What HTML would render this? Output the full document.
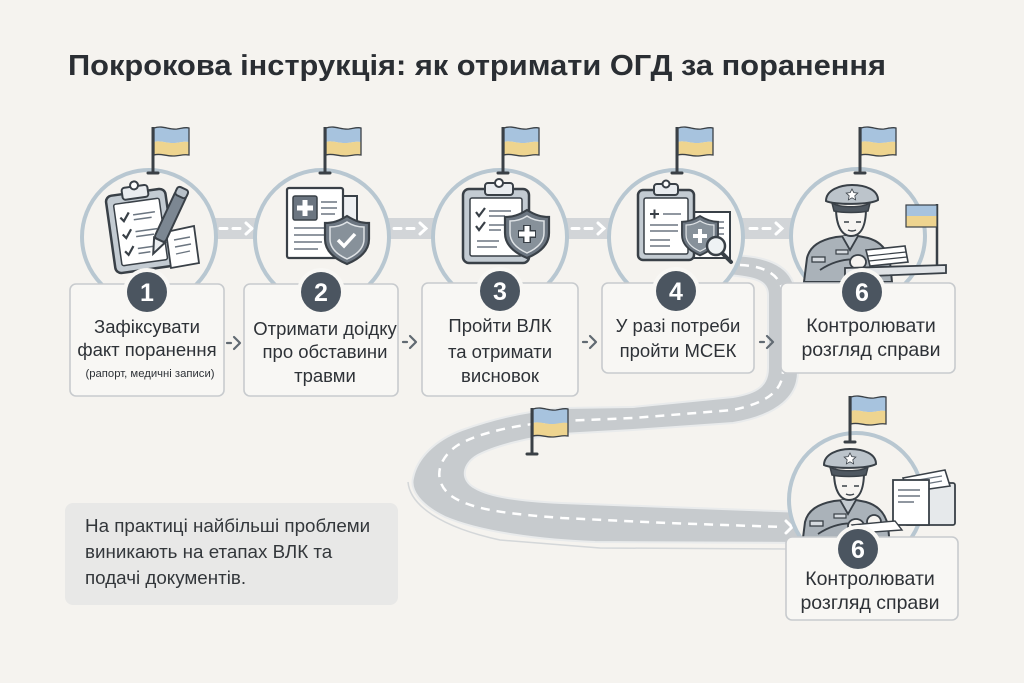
<!DOCTYPE html>
<html><head><meta charset="utf-8"><style>
html,body{margin:0;padding:0;background:#f5f3ef;}
svg{display:block;}
text{font-family:"Liberation Sans","Noto Sans CJK SC",sans-serif;}
</style></head><body>
<svg width="1024" height="683" viewBox="0 0 1024 683" xmlns="http://www.w3.org/2000/svg" xmlns:xlink="http://www.w3.org/1999/xlink">
<defs>
<g id="flag">
 <line x1="0" y1="0" x2="0" y2="46" stroke="#3a4046" stroke-width="3"/>
 <line x1="-5" y1="46" x2="5" y2="46" stroke="#3a4046" stroke-width="3" stroke-linecap="round"/>
 <path d="M1,1 C10,-2 16,3 24,2 C30,1 33,0 36,1 L36,15 C30,14 26,16 20,16 C12,16 7,13 1,15 Z" fill="#a7c3de"/>
 <path d="M1,15 C7,13 12,16 20,16 C26,16 30,14 36,15 L36,28 C30,27 26,29 20,29 C12,29 7,26 1,28 Z" fill="#eed48f"/>
 <path d="M1,1 C10,-2 16,3 24,2 C30,1 33,0 36,1 L36,28 C30,27 26,29 20,29 C12,29 7,26 1,28 Z" fill="none" stroke="#3a4046" stroke-width="1.3"/>
</g>
<g id="shield">
 <path d="M0,0 C8,5 14,7 22,7 L22,23 C22,35 12,43 0,48 C-12,43 -22,35 -22,23 L-22,7 C-14,7 -8,5 0,0 Z" fill="#6b7580" stroke="#394047" stroke-width="2.2"/>
 <path d="M0,6 C6,10 11,11 17,11 L17,23 C17,33 9,39 0,43 C-9,39 -17,33 -17,23 L-17,11 C-11,11 -6,10 0,6 Z" fill="#87919a" stroke="#dfe3e6" stroke-width="1.5"/>
</g>
<g id="soldier">
 <path d="M804,282 L807,258 C810,246 820,240 836,237 L846,236 L852,243 L858,236 L868,238 C882,242 888,252 890,262 L892,282 Z" fill="#aab2b9" stroke="#394047" stroke-width="2"/>
 <path d="M842,236 L850,250 L858,236" fill="#c3cad0" stroke="#394047" stroke-width="1.8"/>
 <rect x="812" y="257" width="13" height="5" fill="#d6dbe0" stroke="#394047" stroke-width="1.3"/>
 <rect x="836" y="250" width="12" height="4" fill="#d6dbe0" stroke="#394047" stroke-width="1.2"/>
 <path d="M836,208 C836,226 842,236 851,236 C861,236 866,226 866,208 Z" fill="#f6f4f1" stroke="#394047" stroke-width="2"/>
 <path d="M844,222 h5 M856,222 h5 M848,230 q4,2 8,0" stroke="#394047" stroke-width="1.4" fill="none"/>
 <path d="M826,201 C826,190 840,185 852,185 C866,185 878,190 878,200 C870,205 834,205 826,201 Z" fill="#bcc4cb" stroke="#394047" stroke-width="2"/>
 <path d="M832,203 C840,208 862,208 870,203 L868,211 C860,213 842,213 834,211 Z" fill="#4e5760" stroke="#394047" stroke-width="1.5"/>
 <path d="M852,189 l1.8,3.6 4,.5 -3,2.7 .8,4 -3.6,-2 -3.6,2 .8,-4 -3,-2.7 4,-.5 Z" fill="#fff" stroke="#394047" stroke-width="0.8"/>
 <path d="M820,270 C832,262 846,258 860,260" fill="none" stroke="#394047" stroke-width="1.8"/>
 <ellipse cx="858" cy="262" rx="8" ry="7" fill="#f6f4f1" stroke="#394047" stroke-width="1.8"/>
 <ellipse cx="876" cy="258" rx="7" ry="7" fill="#f6f4f1" stroke="#394047" stroke-width="1.8"/>
</g>
</defs>

<rect width="1024" height="683" fill="#f5f3ef"/>

<!-- title -->
<text x="68" y="75" font-size="29" font-weight="bold" fill="#2a2e33" textLength="818" lengthAdjust="spacingAndGlyphs">Покрокова інструкція: як отримати ОГД за поранення</text>

<!-- bands between circles -->
<g fill="#d2d5d8">
 <rect x="205" y="218" width="60" height="21"/>
 <rect x="380" y="218" width="62" height="21"/>
 <rect x="558" y="218" width="60" height="21"/>
 <rect x="734" y="218" width="66" height="21"/>
</g>
<g stroke="#ffffff" stroke-width="3" fill="none" stroke-linecap="round">
 <path d="M220,228.5 h7 M233,228.5 h7 M246,223 l6,5.5 -6,5.5"/>
 <path d="M394,228.5 h7 M407,228.5 h7 M420,223 l6,5.5 -6,5.5"/>
 <path d="M572,228.5 h7 M585,228.5 h7 M598,223 l6,5.5 -6,5.5"/>
 <path d="M750,228.5 h7 M763,228.5 h7 M776,223 l6,5.5 -6,5.5"/>
</g>

<!-- road -->
<path d="M725,255 C760,255 785,262 793,282 L798,300 L798,372 C798,395 780,415 733,423 L633,430 L562,434 C530,437 495,446 478,455 C462,464 460,480 475,488 C490,497 520,501 562,503 L667,507 L805,512 L805,543 L595,542 C540,540 480,532 445,517 C420,505 410,490 413,478 C417,458 435,440 462,430 C490,420 520,412 562,408 L633,407 L733,397 C758,393 768,385 768,368 L768,295 C768,282 758,277 725,275 Z" fill="#c7cbce" stroke="#e9ebec" stroke-width="2"/>
<path d="M408,482 C410,505 440,527 500,540 L600,548 L790,549" fill="none" stroke="#d4d7d9" stroke-width="1.5"/>
<path d="M740,265 C765,266 782,275 783,295 L783,370 C783,392 765,403 733,410 L633,418 L562,421 C520,424 480,432 458,445 C438,458 432,480 450,495 C470,510 510,514 562,518 L667,523 L783,527" fill="none" stroke="#ffffff" stroke-width="2.5" stroke-dasharray="9 7"/>
<path d="M786,521 l6,6 -6,6" fill="none" stroke="#ffffff" stroke-width="3" stroke-linecap="round"/>

<!-- circles -->
<g fill="#f5f3ef" stroke="#b8c7d1" stroke-width="4">
 <circle cx="149" cy="237" r="67"/>
 <circle cx="322" cy="237" r="67"/>
 <circle cx="500" cy="237" r="67"/>
 <circle cx="676" cy="237" r="67"/>
 <circle cx="858" cy="236" r="67"/>
 <circle cx="856" cy="500" r="67"/>
</g>

<!-- flags -->
<use xlink:href="#flag" transform="translate(153,127)"/>
<use xlink:href="#flag" transform="translate(325,127)"/>
<use xlink:href="#flag" transform="translate(503,127)"/>
<use xlink:href="#flag" transform="translate(677,127)"/>
<use xlink:href="#flag" transform="translate(860,127)"/>
<use xlink:href="#flag" transform="translate(532,408)"/>
<use xlink:href="#flag" transform="translate(850,396)"/>

<!-- icon 1 -->
<g transform="rotate(-8 140 228)">
 <rect x="110" y="192" width="60" height="78" rx="6" fill="#c3cbd2" stroke="#394047" stroke-width="2.5"/>
 <rect x="117" y="201" width="46" height="62" rx="2" fill="#fff" stroke="#394047" stroke-width="1.5"/>
 <rect x="127" y="186" width="26" height="12" rx="3" fill="#e9ecef" stroke="#394047" stroke-width="2"/>
 <circle cx="140" cy="185" r="4" fill="#fff" stroke="#394047" stroke-width="2"/>
 <path d="M122,215 l3,4 l6,-8 M122,232 l3,4 l6,-8 M122,249 l3,4 l6,-8" stroke="#394047" stroke-width="2.2" fill="none"/>
 <path d="M135,214 h22 M135,219 h18 M135,231 h22 M135,236 h18 M135,248 h16 M135,253 h12" stroke="#6b7580" stroke-width="1.5"/>
</g>
<path d="M166,232 L194,226 L199,263 L171,268 Z" fill="#fff" stroke="#394047" stroke-width="1.8"/>
<path d="M174,240 l16,-3 M175,247 l16,-3 M176,254 l14,-3" stroke="#6b7580" stroke-width="1.4"/>
<g transform="rotate(25 168 222)">
 <rect x="162" y="190" width="12" height="52" rx="3" fill="#7c8792" stroke="#394047" stroke-width="2"/>
 <path d="M162,242 L168,257 L174,242 Z" fill="#e9ecef" stroke="#394047" stroke-width="2"/>
 <rect x="162" y="185" width="12" height="9" rx="3" fill="#b7c0c8" stroke="#394047" stroke-width="2"/>
</g>

<!-- icon 2 -->
<rect x="303" y="196" width="54" height="62" fill="#eef0f2" stroke="#394047" stroke-width="2"/>
<rect x="287" y="188" width="56" height="70" rx="2" fill="#fff" stroke="#394047" stroke-width="2.2"/>
<rect x="293" y="196" width="24" height="24" rx="2" fill="#6b7580" stroke="#394047" stroke-width="1.5"/>
<path d="M305,200 v16 M297,208 h16" stroke="#fff" stroke-width="5"/>
<path d="M321,202 h16 M321,208 h16 M321,214 h14 M294,228 h30 M294,235 h30 M294,242 h28 M294,249 h24" stroke="#6b7580" stroke-width="1.5"/>
<use xlink:href="#shield" transform="translate(347,216)"/>
<path d="M338,240 l6,6 l11,-12" stroke="#fff" stroke-width="3.5" fill="none"/>

<!-- icon 3 -->
<rect x="463" y="189" width="66" height="74" rx="6" fill="#c3cbd2" stroke="#394047" stroke-width="2.5"/>
<rect x="470" y="198" width="52" height="58" rx="2" fill="#fff" stroke="#394047" stroke-width="1.5"/>
<rect x="485" y="183" width="28" height="12" rx="3" fill="#e9ecef" stroke="#394047" stroke-width="2"/>
<circle cx="499" cy="183" r="4" fill="#fff" stroke="#394047" stroke-width="2"/>
<path d="M476,212 l3,4 l6,-8 M476,226 l3,4 l6,-8" stroke="#394047" stroke-width="2.2" fill="none"/>
<path d="M489,211 h22 M489,216 h16 M489,225 h18 M489,230 h12 M477,241 h22 M477,247 h20" stroke="#6b7580" stroke-width="1.5"/>
<use xlink:href="#shield" transform="translate(527,210)"/>
<path d="M527,225 v18 M518,234 h18" stroke="#394047" stroke-width="8"/>
<path d="M527,226 v16 M519,234 h16" stroke="#fff" stroke-width="5"/>

<!-- icon 4 -->
<rect x="686" y="212" width="44" height="46" fill="#fff" stroke="#394047" stroke-width="2"/>
<path d="M712,222 h12 M712,228 h12 M712,234 h12" stroke="#6b7580" stroke-width="1.4"/>
<rect x="638" y="190" width="56" height="70" rx="5" fill="#c3cbd2" stroke="#394047" stroke-width="2.5"/>
<rect x="644" y="198" width="44" height="56" rx="2" fill="#fff" stroke="#394047" stroke-width="1.5"/>
<rect x="654" y="184" width="24" height="11" rx="3" fill="#e9ecef" stroke="#394047" stroke-width="2"/>
<circle cx="666" cy="184" r="3.5" fill="#fff" stroke="#394047" stroke-width="2"/>
<path d="M650,214 h9 M654.5,209.5 v9" stroke="#394047" stroke-width="2"/>
<path d="M663,214 h18 M650,225 h28 M650,231 h28 M650,240 h20 M650,246 h20" stroke="#6b7580" stroke-width="1.5"/>
<use xlink:href="#shield" transform="translate(700,216) scale(0.82)"/>
<path d="M700,229 v14 M693,236 h14" stroke="#fff" stroke-width="4"/>
<line x1="722" y1="253" x2="731" y2="262" stroke="#394047" stroke-width="4" stroke-linecap="round"/>
<circle cx="716" cy="246" r="9" fill="#eef2f4" stroke="#394047" stroke-width="2.5"/>

<!-- icon 6 (top) -->
<line x1="937" y1="204" x2="937" y2="270" stroke="#394047" stroke-width="2.5"/>
<rect x="906" y="205" width="31" height="11" fill="#a7c3de"/>
<rect x="906" y="216" width="31" height="11" fill="#eed48f"/>
<rect x="906" y="205" width="31" height="22" fill="none" stroke="#394047" stroke-width="1.2"/>
<use xlink:href="#soldier"/>
<path d="M866,250 L905,246 L908,262 L870,266 Z" fill="#fff" stroke="#394047" stroke-width="1.6"/>
<path d="M868,256 L906,252 M869,261 L907,257" stroke="#394047" stroke-width="1.2"/>
<path d="M845,268 L946,265 L946,273 L845,277 Z" fill="#e0e3e6" stroke="#394047" stroke-width="1.8"/>

<!-- icon 6 (bottom) -->
<use xlink:href="#soldier" transform="translate(-2,264)"/>
<rect x="905" y="483" width="50" height="42" rx="2" fill="#e6e9eb" stroke="#394047" stroke-width="1.8"/>
<path d="M903,478 L945,470 L950,486 L908,492 Z" fill="#fff" stroke="#394047" stroke-width="1.6"/>
<path d="M912,481 l30,-5 M914,486 l28,-5" stroke="#6b7580" stroke-width="1.2"/>
<rect x="893" y="480" width="36" height="45" fill="#fff" stroke="#394047" stroke-width="1.8"/>
<path d="M898,490 h22 M898,496 h22 M898,502 h16" stroke="#6b7580" stroke-width="1.4"/>
<path d="M852,525 L895,521 L902,530 L858,533 Z" fill="#fff" stroke="#394047" stroke-width="1.4"/>

<!-- boxes -->
<g fill="#f8f7f4" stroke="#c8cbce" stroke-width="1.6">
 <rect x="70" y="284" width="154" height="112" rx="6"/>
 <rect x="244" y="284" width="154" height="112" rx="6"/>
 <rect x="422" y="283" width="156" height="113" rx="6"/>
 <rect x="602" y="283" width="152" height="90" rx="6"/>
 <rect x="781" y="283" width="174" height="90" rx="6"/>
 <rect x="786" y="537" width="172" height="83" rx="6"/>
</g>

<!-- badges -->
<g fill="#f8f7f4">
 <circle cx="147" cy="292" r="24"/>
 <circle cx="321" cy="292" r="24"/>
 <circle cx="500" cy="291" r="24"/>
 <circle cx="676" cy="291" r="24"/>
 <circle cx="862" cy="292" r="24"/>
 <circle cx="858" cy="549" r="24"/>
</g>
<g fill="#4b5560">
 <circle cx="147" cy="292" r="20"/>
 <circle cx="321" cy="292" r="20"/>
 <circle cx="500" cy="291" r="20"/>
 <circle cx="676" cy="291" r="20"/>
 <circle cx="862" cy="292" r="20"/>
 <circle cx="858" cy="549" r="20"/>
</g>
<g fill="#ffffff" font-size="25" font-weight="bold" text-anchor="middle">
 <text x="147" y="301">1</text>
 <text x="321" y="301">2</text>
 <text x="500" y="300">3</text>
 <text x="676" y="300">4</text>
 <text x="862" y="301">6</text>
 <text x="858" y="558">6</text>
</g>

<!-- small arrows between boxes -->
<g fill="none" stroke="#616a72" stroke-width="2.2" stroke-linecap="round" stroke-linejoin="round">
 <path d="M227,343 h4 M234,337 l6,6 -6,6"/>
 <path d="M403,342 h4 M410,336 l6,6 -6,6"/>
 <path d="M583,342 h4 M590,336 l6,6 -6,6"/>
 <path d="M760,342 h4 M767,336 l6,6 -6,6"/>
</g>

<!-- box texts -->
<g fill="#2e3237" font-size="18.5" text-anchor="middle">
 <text x="147" y="333">Зафіксувати</text>
 <text x="147" y="356">факт поранення</text>
 <text x="150" y="377" font-size="11.3">(рапорт, медичні записи)</text>
 <text x="325" y="335">Отримати доідку</text>
 <text x="325" y="358">про обставини</text>
 <text x="325" y="382">травми</text>
 <text x="500" y="332">Пройти ВЛК</text>
 <text x="500" y="358">та отримати</text>
 <text x="500" y="382">висновок</text>
 <text x="678" y="332">У разі потреби</text>
 <text x="678" y="357">пройти МСЕК</text>
 <text x="871" y="332" font-size="19.5">Контролювати</text>
 <text x="871" y="356" font-size="19.5">розгляд справи</text>
 <text x="870" y="585" font-size="19.5">Контролювати</text>
 <text x="870" y="609" font-size="19.5">розгляд справи</text>
</g>

<!-- note box -->
<rect x="65" y="503" width="333" height="102" rx="8" fill="#e8e8e7"/>
<g fill="#33373b" font-size="18.8">
 <text x="85" y="532">На практиці найбільші проблеми</text>
 <text x="85" y="558">виникають на етапах ВЛК та</text>
 <text x="85" y="584">подачі документів.</text>
</g>
</svg>
</body></html>
